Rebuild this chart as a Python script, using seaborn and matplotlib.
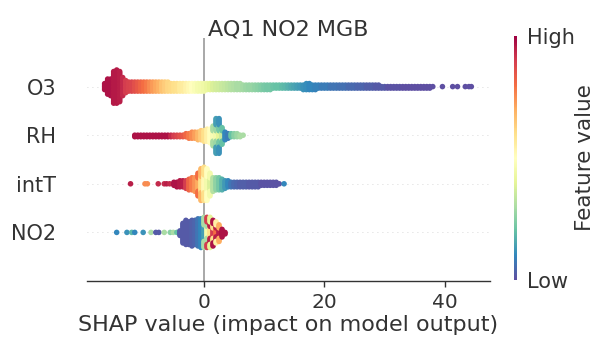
import numpy as np
import pandas as pd
import matplotlib
matplotlib.use("Agg")
import matplotlib.pyplot as plt
import seaborn as sns
from matplotlib.cm import ScalarMappable
from matplotlib.colors import Normalize

# ---------------- data ----------------
title = "AQ1 NO2 MGB"
xlabel = "SHAP value (impact on model output)"
features = ["O3", "RH", "intT", "NO2"]          # top to bottom
xticks = [0, 20, 40]
cbar_labels = ["Low", "High"]
cbar_title = "Feature value"

# Each feature: SHAP bin position, number of samples stacked in that bin,
# and the (normalised) feature value of those samples.
o3_shap = [-16.5, -16, -15.5, -15, -14.5, -14, -13.5, -13,
           -12.5, -12, -11.5, -11, -10.5, -10, -9.5, -9, -8.5, -8, -7.5, -7, -6.5, -6,
           -5.5, -5, -4.5, -4, -3.5, -3, -2.5, -2, -1.5, -1, -0.5, 0,
           0.5, 1, 1.5, 2, 2.5, 3, 3.5, 4, 4.5, 5, 5.5, 6,
           6.5, 7, 7.5, 8, 8.5, 9, 9.5, 10, 10.5, 11,
           11.5, 12, 12.5, 13, 13.5, 14, 14.5, 15, 15.5, 16,
           16.5, 17, 17.5, 18, 18.5,
           19, 19.5, 20, 20.5, 21, 21.5, 22, 22.5, 23, 23.5, 24, 24.5, 25, 25.5, 26, 26.5,
           27, 27.5, 28, 28.5, 29,
           29.5, 30, 30.5, 31, 31.5, 32, 32.5, 33, 33.5, 34, 34.5, 35, 35.5, 36, 36.5, 37, 37.5,
           38, 39.6, 41.3, 42.1, 43.4, 44.0, 44.4]
o3_count = [5, 11, 12, 22, 23, 21, 13, 9,
            7, 7, 7, 7, 7, 7, 7, 7, 7, 7, 7, 7, 7, 7,
            6, 6, 6, 6, 6, 6, 6, 6, 6, 6, 6, 6,
            5, 5, 5, 5, 5, 5, 5, 5, 5, 5, 5, 5,
            4, 4, 4, 4, 4, 4, 4, 4, 4, 4,
            3, 3, 3, 3, 3, 3, 3, 3, 3, 3,
            4, 5, 5, 4, 4,
            3, 3, 3, 3, 3, 3, 3, 3, 3, 3, 3, 3, 3, 3, 3, 3,
            3, 3, 3, 3, 3,
            2, 2, 2, 2, 2, 2, 2, 2, 2, 2, 2, 2, 2, 2, 2, 2, 2,
            1, 1, 1, 1, 1, 1, 1]
o3_value = [.97, .97, .97, .96, .96, .95, .93, .90,
            .89, .88, .86, .84, .82, .80, .78, .75, .73, .71, .69, .66, .64, .62,
            .61, .60, .59, .57, .56, .54, .52, .50, .48, .46, .45, .44,
            .42, .40, .38, .37, .36, .35, .34, .33, .32, .31, .30, .30,
            .29, .28, .27, .27, .26, .25, .24, .23, .22, .22,
            .21, .20, .20, .19, .18, .17, .16, .15, .14, .13,
            .12, .11, .10, .10, .09,
            .09, .08, .08, .08, .07, .07, .07, .06, .06, .06, .05, .05, .05, .04, .04, .04,
            .03, .03, .03, .02, .02,
            .02, .02, .01, .01, .01, .01, .01, 0, 0, 0, 0, 0, 0, 0, 0, 0, 0,
            0, 0, 0, 0, 0, 0, 0]

rh_shap = [-11.5, -11, -10.5, -10, -9.5, -9, -8.5, -8, -7.5, -7, -6.5, -6,
           -5.5, -5, -4.5, -4, -3.5, -3, -2.5, -2, -1.5, -1, -0.5, 0, 0.5, 1,
           1.5, 1.5, 2, 2, 2, 2.5, 2.5, 2.5, 3, 3, 3.5, 4, 4.5, 5, 5.5, 6, 6.5]
rh_count = [2, 2, 2, 2, 2, 2, 2, 2, 2, 2, 2, 2,
            2, 2, 2, 2, 2, 3, 4, 5, 5, 6, 7, 8, 9, 10,
            6, 8, 6, 8, 10, 6, 8, 10, 6, 6, 6, 4, 3, 3, 3, 2, 1]
rh_value = [.97, .97, .97, .97, .97, .97, .97, .97, .97, .97, .97, .97,
            .93, .90, .88, .86, .84, .81, .78, .75, .72, .68, .64, .60, .55, .50,
            .47, .30, .45, .28, .14, .40, .22, .12, .35, .20, .10, .08, .20, .25, .28, .30, .30]

intt_shap = [-12.2, -9.8, -9.4, -7.6, -6.6, -6.2, -5.7,
             -5, -4.5, -4, -3.5, -3, -2.5, -2, -1.5, -1, -1, -0.5, -0.5, 0, 0, 0.5, 0.5,
             1, 1, 1.5, 2, 2.5, 3, 3.5, 4, 4.5, 5, 5.5, 6, 6.5, 7, 7.5, 8, 8.5, 9,
             9.5, 10, 10.5, 11, 11.5, 12, 12.5, 13.3]
intt_count = [1, 1, 1, 1, 1, 1, 1,
              3, 4, 5, 5, 6, 8, 9, 10, 8, 8, 10, 12, 11, 12, 10, 12,
              8, 8, 10, 9, 9, 8, 6, 5, 4, 4, 4, 4, 4, 4, 4, 4, 4, 4,
              3, 3, 3, 3, 3, 3, 1, 1]
intt_value = [.95, .75, .75, .93, .93, .95, .93,
              .97, .97, .96, .95, .90, .82, .78, .74, .70, .80, .60, .68, .52, .60, .45, .50,
              .38, .45, .32, .26, .22, .17, .13, .10, .07, .05, .04, .03, .03, .03, .02, .02, .02, .02,
              .01, .01, .01, .01, .01, .01, .01, .10]

no2_shap = [-14.5, -12.8, -12.0, -11.5, -10.1, -8.8, -8.0, -7.5, -6.6, -5.6, -5.1, -4.5,
            -4, -3.5, -3, -2.5, -2, -1.5, -1, -0.5, 0, 0, 0.5, 0.5, 0.5,
            1, 1, 1, 1.5, 1.5, 1.5, 2, 2, 2, 2.5, 2.5, 3, 3.5]
no2_count = [1, 1, 1, 1, 1, 1, 1, 1, 1, 1, 1, 1,
             4, 14, 17, 16, 18, 17, 19, 20, 10, 11, 7, 7, 7,
             7, 7, 7, 6, 6, 6, 5, 5, 5, 6, 6, 6, 2]
no2_value = [.10, .12, .18, .10, .12, .30, .02, .02, .30, .25, .30, .20,
             .02, .02, .02, .02, .03, .04, .07, .10, .14, .30, .45, .30, .90,
             .60, .95, .40, .90, .60, .97, .80, .95, .55, .95, .70, .97, .97]

feature_data = {
    "O3": (o3_shap, o3_count, o3_value),
    "RH": (rh_shap, rh_count, rh_value),
    "intT": (intt_shap, intt_count, intt_value),
    "NO2": (no2_shap, no2_count, no2_value),
}

# ---------------- beeswarm layout (shap-style stacking) ----------------
STEP = 0.031  # vertical spacing between stacked samples, in row units
rows = {f: len(features) - 1 - i for i, f in enumerate(features)}
recs = []
for f in features:
    shap_vals, counts, vals = feature_data[f]
    layer = {}
    for x, n, v in zip(shap_vals, counts, vals):
        for _ in range(n):
            k = layer.get(x, 0)
            layer[x] = k + 1
            off = np.ceil(k / 2) * (-1) ** k * STEP
            recs.append((x, rows[f] + off, v))
df = pd.DataFrame(recs, columns=["shap", "y", "value"])

# ---------------- plotting ----------------
sns.set_theme(style="white")
plt.rcParams["font.family"] = ["DejaVu Sans"]
txt = "#333333"
cmap = sns.color_palette("Spectral_r", as_cmap=True)

fig = plt.figure(figsize=(6, 3.44), dpi=100)
ax = fig.add_axes([87 / 600, 63 / 344, 403 / 600, 243 / 344])

for r in rows.values():
    ax.axhline(r, color="#cccccc", lw=0.6, dashes=(1, 5), zorder=0)
ax.axvline(0, color="#999999", lw=1.2, zorder=0)

sns.scatterplot(data=df, x="shap", y="y", hue="value", palette=cmap,
                hue_norm=(0, 1), s=16, linewidth=0, legend=False, ax=ax, zorder=3)

ax.set_xlim(-19.43, 47.5)
ax.set_ylim(-1, len(features))
for s in ["left", "right", "top"]:
    ax.spines[s].set_visible(False)
ax.spines["bottom"].set_color(txt)
ax.spines["bottom"].set_linewidth(1.0)

ax.set_xticks(xticks)
ax.set_yticks([rows[f] for f in features])
ax.set_yticklabels(features)
ax.tick_params(axis="x", bottom=True, length=4, width=1, color=txt,
               labelsize=14.5, labelcolor=txt, pad=5)
ax.tick_params(axis="y", left=False, length=0, labelsize=15, labelcolor=txt, pad=22)
ax.set_xlabel(xlabel, fontsize=16, color=txt, labelpad=2)
ax.set_ylabel("")
ax.set_title(title, fontsize=16, color=txt, pad=2)

cax = fig.add_axes([514 / 600, 64 / 344, 3 / 600, 244 / 344])
sm = ScalarMappable(cmap=cmap, norm=Normalize(0, 1))
cb = fig.colorbar(sm, cax=cax, ticks=[0, 1])
cb.set_ticklabels(cbar_labels)
cb.ax.tick_params(length=0, labelsize=15, labelcolor=txt, pad=7)
cb.set_label(cbar_title, size=15.5, color=txt, labelpad=0)
cb.outline.set_visible(False)

fig.savefig("out.png", dpi=100)
